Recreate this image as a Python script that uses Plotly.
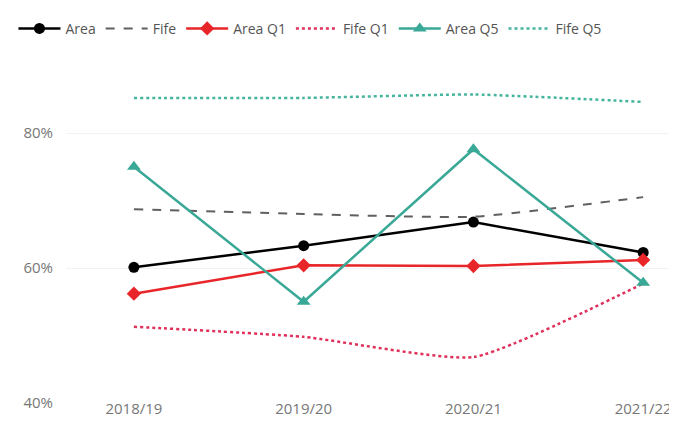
import plotly.graph_objects as go

years = ["2018/19", "2019/20", "2020/21", "2021/22"]
area = [60.1, 63.3, 66.8, 62.3]
fife = [68.7, 68.0, 67.6, 70.5]
area_q1 = [56.2, 60.4, 60.3, 61.2]
fife_q1 = [51.3, 49.8, 46.8, 57.7]
area_q5 = [75.0, 55.0, 77.6, 57.8]
fife_q5 = [85.2, 85.2, 85.7, 84.6]
y_ticks = [40, 60, 80]
y_tick_labels = ["40%", "60%", "80%"]

fig = go.Figure()
fig.add_trace(go.Scatter(x=years, y=area, name="Area", mode="lines+markers",
                         line=dict(color="#000000", width=2.5),
                         marker=dict(symbol="circle", size=11, color="#000000")))
fig.add_trace(go.Scatter(x=years, y=fife, name="Fife", mode="lines",
                         line=dict(color="#606060", width=2, dash="dash", shape="spline", smoothing=0.5)))
fig.add_trace(go.Scatter(x=years, y=area_q1, name="Area Q1", mode="lines+markers",
                         line=dict(color="#e8262a", width=2.5),
                         marker=dict(symbol="diamond", size=11, color="#e8262a")))
fig.add_trace(go.Scatter(x=years, y=fife_q1, name="Fife Q1", mode="lines",
                         line=dict(color="#e0305a", width=2.5, dash="dot", shape="spline", smoothing=0.5)))
fig.add_trace(go.Scatter(x=years, y=area_q5, name="Area Q5", mode="lines+markers",
                         line=dict(color="#3aa896", width=2.5),
                         marker=dict(symbol="triangle-up", size=12, color="#3aa896")))
fig.add_trace(go.Scatter(x=years, y=fife_q5, name="Fife Q5", mode="lines",
                         line=dict(color="#45b59e", width=2.5, dash="dot", shape="spline", smoothing=0.5)))

fig.update_layout(
    width=669, height=421,
    margin=dict(l=57, r=5, t=65, b=26),
    paper_bgcolor="white", plot_bgcolor="white",
    font=dict(family="Open Sans, Segoe UI, sans-serif", size=15, color="#777777"),
    showlegend=True,
    legend=dict(orientation="h", x=-0.087, y=1.155, xanchor="left", yanchor="middle",
                font=dict(size=14, color="#555555"), itemwidth=42,
                tracegroupgap=0, bgcolor="rgba(0,0,0,0)"),
    xaxis=dict(type="category", range=[-0.4, 3.158], showgrid=False, zeroline=False,
               showline=False, ticks="", ticklabelstandoff=-5,
               tickfont=dict(size=15, color="#777777")),
    yaxis=dict(range=[40, 88], tickvals=y_ticks, ticktext=y_tick_labels,
               showgrid=True, gridcolor="#f2f2f2", zeroline=False, showline=False,
               ticks="", ticklabelstandoff=12, tickfont=dict(size=15, color="#777777")),
)

fig.write_html("out.html")
